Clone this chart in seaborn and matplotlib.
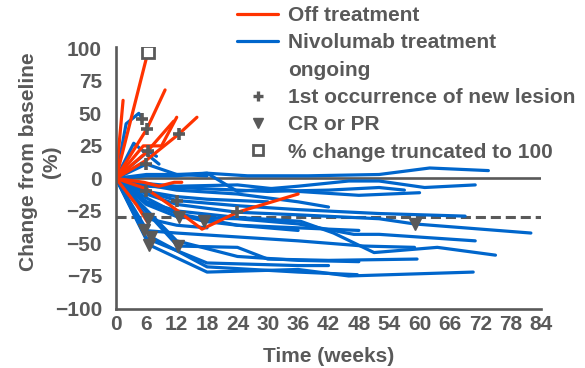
import matplotlib
matplotlib.use("Agg")
import matplotlib.pyplot as plt
from matplotlib.lines import Line2D
import seaborn as sns
import pandas as pd

# ---------------- data ----------------
# Off treatment patients (weeks, % change)
off_weeks = [
    [0, 1.4],
    [0, 6.3],
    [0, 6.1, 9.7],
    [0, 6, 12.4, 16],
    [0, 5.4, 9, 12],
    [0, 6, 11.4],
    [0, 6, 10.5, 17, 24, 36],
    [0, 4, 6.3],
    [0, 5.5, 8.5, 11.5, 13],
]
off_values = [
    [0, 60],
    [0, 97],
    [0, 38, 68],
    [0, 14, 34, 47],
    [0, 25, 25, 47],
    [0, 20, 44],
    [0, -8, -20, -39, -26, -12],
    [0, -20, -34],
    [0, -3, -6, -3, -3],
]
# Nivolumab treatment ongoing patients
on_weeks = [
    [0, 6, 12, 18, 26, 38, 52, 62, 73.6],
    [0, 6, 12, 18, 24, 36, 46, 52, 61, 71],
    [0, 6, 12, 24, 36, 48, 60],
    [0, 6, 18, 30, 42, 52, 57],
    [0, 6, 12, 24, 36, 52, 69],
    [0, 6, 12, 24, 36, 52, 59, 82],
    [0, 6, 12.4, 24, 36, 47, 52, 71],
    [0, 6, 12, 24, 36.5, 43, 51, 63.5, 75],
    [0, 5.5, 12, 24, 36, 49, 59],
    [0, 12.2, 24, 30, 42, 59.5],
    [0, 6.5, 18, 36, 46, 70.6],
    [0, 6, 18, 36, 42],
    [0, 12, 24, 36, 48],
    [0, 6.9, 18, 36, 47.7],
    [0, 2, 4.5, 5.2],
    [0, 3.5, 8.5],
    [0, 6.4, 8],
    [0, 6, 12, 18],
    [0, 6, 12, 18, 30],
    [0, 6.3, 12, 18],
    [0, 6, 12, 24, 36, 48],
    [0, 6, 12, 17.4, 24, 36],
    [0, 6, 12, 24, 36, 42],
]
on_values = [
    [0, 3, 3, 4, 2, 2, 3, 8, 6],
    [0, 2, 2, 4, -10, -6, -2, -2, -7, -5],
    [0, -4, -6, -5, -10, -13, -11],
    [0, -6, -8, -10, -9, -7, -9],
    [0, -10, -17, -21, -24, -27, -29],
    [0, -12, -20, -26, -28, -31, -35, -42],
    [0, -20, -30, -31, -35, -43, -43, -48],
    [0, -18, -25, -30, -33, -42, -57, -53, -59],
    [0, -40, -42, -45, -48, -52, -53],
    [0, -52, -53, -62, -63, -62],
    [0, -51, -72, -70, -75, -72],
    [0, -46, -65, -67, -67],
    [0, -48, -60, -63, -64],
    [0, -45, -68, -72, -74],
    [0, 42, 50, 46],
    [0, 27, 11],
    [0, 21, 17],
    [0, 11, 3, 2],
    [0, -10, -14, -16, -18],
    [0, -31, -36, -38],
    [0, -15, -27, -36, -38, -40],
    [0, -18, -27, -33, -36, -40],
    [0, -5, -9, -12, -18, -22],
]
# markers
lesion_weeks = [5.2, 6.1, 12.4, 6.4, 6, 6, 12, 24]
lesion_values = [46, 38, 34, 21, 11, -10, -17, -26]
resp_weeks = [6.3, 5.5, 6.9, 6.5, 12.4, 17.4, 12.2, 59]
resp_values = [-31, -40, -45, -51, -30, -33, -52, -35]
trunc_weeks = [6.3]
trunc_values = [97]

x_ticks = list(range(0, 85, 6))
y_ticks = [-100, -75, -50, -25, 0, 25, 50, 75, 100]
threshold = -30

# ---------------- style ----------------
RED = "#FF3300"
BLUE = "#0066CC"
GRAY = "#595959"

sns.set_theme(style="white")
plt.rcParams["font.family"] = ["Liberation Sans", "DejaVu Sans"]
plt.rcParams["font.weight"] = "bold"
plt.rcParams["font.size"] = 15

rows = []
pid = 0
for ws, vs in zip(on_weeks, on_values):
    for w, v in zip(ws, vs):
        rows.append(dict(patient=pid, week=w, value=v, status="Nivolumab treatment ongoing"))
    pid += 1
for ws, vs in zip(off_weeks, off_values):
    for w, v in zip(ws, vs):
        rows.append(dict(patient=pid, week=w, value=v, status="Off treatment"))
    pid += 1
df = pd.DataFrame(rows)

fig = plt.figure(figsize=(5.85, 3.68), dpi=100)
ax = fig.add_axes([116 / 585, 1 - 308.5 / 368, 425 / 585, 261.5 / 368])

ax.axhline(0, color=GRAY, lw=1.9, zorder=1)
ax.axhline(threshold, color=GRAY, lw=2.2, linestyle=(0, (3.3, 1.6)), zorder=1)

sns.lineplot(data=df, x="week", y="value", hue="status", units="patient",
             estimator=None, sort=False, ax=ax, legend=False,
             palette={"Off treatment": RED, "Nivolumab treatment ongoing": BLUE},
             linewidth=2.3, zorder=2)

ax.plot(lesion_weeks, lesion_values, linestyle="none", marker="+", ms=8,
        mew=2.6, color=GRAY, zorder=4)
ax.plot(resp_weeks, resp_values, linestyle="none", marker="v", ms=8,
        color=GRAY, mec=GRAY, zorder=4)
ax.plot(trunc_weeks, trunc_values, linestyle="none", marker="s", ms=8,
        mfc="white", mec=GRAY, mew=2, zorder=4)

ax.set_xlim(0, 84)
ax.set_ylim(-100, 101)
ax.set_xticks(x_ticks)
ax.set_yticks(y_ticks)
ax.set_yticklabels([f"{t}".replace("-", "\u2212") for t in y_ticks])
ax.tick_params(axis="both", length=0, colors=GRAY, labelsize=15)
ax.tick_params(axis="y", pad=10)
ax.tick_params(axis="x", pad=5)
for lab in ax.get_xticklabels() + ax.get_yticklabels():
    lab.set_fontweight("bold")

for s in ["top", "right"]:
    ax.spines[s].set_visible(False)
for s in ["left", "bottom"]:
    ax.spines[s].set_color(GRAY)
    ax.spines[s].set_linewidth(1.9)

ax.set_xlabel("Time (weeks)", color=GRAY, fontsize=15, fontweight="bold", labelpad=9)
ax.set_ylabel("Change from baseline\n(%)", color=GRAY, fontsize=15,
              fontweight="bold", linespacing=1.25)
ax.yaxis.set_label_coords(-0.13, 0.56)

handles = [
    Line2D([], [], color=RED, lw=2.3),
    Line2D([], [], color=BLUE, lw=2.3),
    Line2D([], [], linestyle="none"),
    Line2D([], [], linestyle="none", marker="+", ms=7, mew=2.4, color=GRAY),
    Line2D([], [], linestyle="none", marker="v", ms=7, color=GRAY),
    Line2D([], [], linestyle="none", marker="s", ms=7, mfc="white", mec=GRAY, mew=2),
]
labels = ["Off treatment", "Nivolumab treatment", "ongoing",
          "1st occurrence of new lesion", "CR or PR", "% change truncated to 100"]
leg = fig.legend(handles, labels, loc="upper left",
                 bbox_to_anchor=(237 / 585, 1 - 6 / 368), frameon=False,
                 borderpad=0, borderaxespad=0, handlelength=1.97,
                 handletextpad=0.48, labelspacing=0.4, numpoints=1,
                 prop={"family": ["Liberation Sans"], "weight": "bold", "size": 15})
for t in leg.get_texts():
    t.set_color(GRAY)

fig.savefig("out.png", dpi=100)
